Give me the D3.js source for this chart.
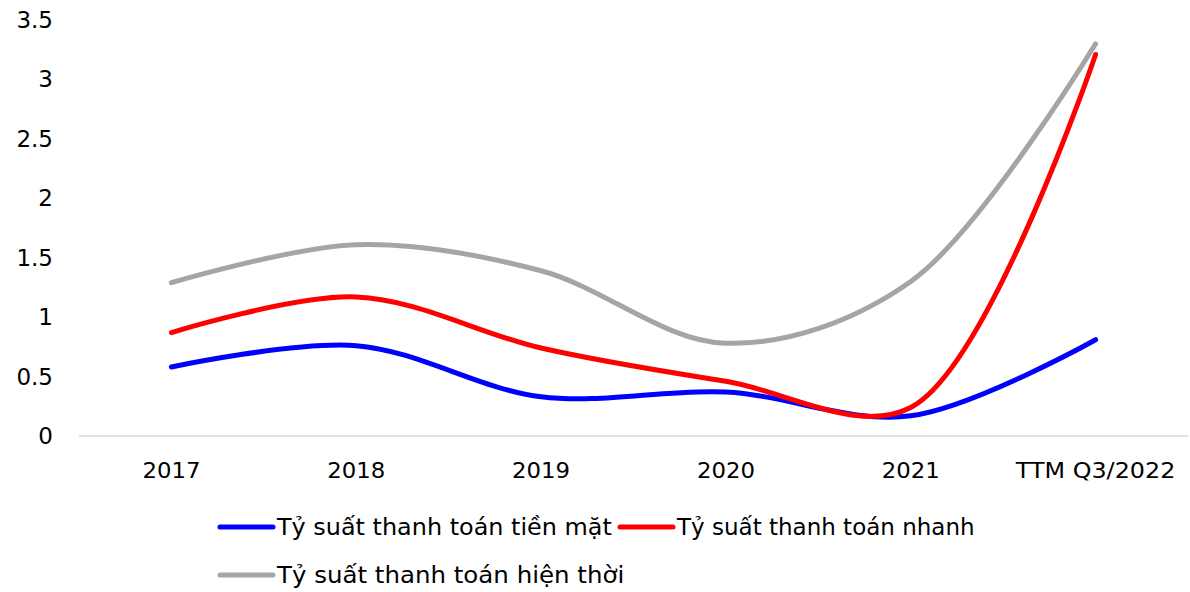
<!DOCTYPE html>
<html>
<head>
<meta charset="utf-8">
<script src="https://cdn.jsdelivr.net/npm/d3@7"></script>
<style>
  body { margin: 0; background: #fff; }
  svg { font-family: "DejaVu Sans", Verdana, sans-serif; }
</style>
</head>
<body>
<div id="chart"></div>
<script>
const categories = ["2017", "2018", "2019", "2020", "2021", "TTM Q3/2022"];
const cashRatio = [0.58, 0.76, 0.33, 0.37, 0.17, 0.81];
const quickRatio = [0.87, 1.17, 0.74, 0.46, 0.24, 3.21];
const currentRatio = [1.29, 1.61, 1.39, 0.78, 1.30, 3.30];
const yTicks = [0, 0.5, 1, 1.5, 2, 2.5, 3, 3.5];

const series = [
  {name: "Tỷ suất thanh toán tiền mặt", values: cashRatio, color: "#0000FF"},
  {name: "Tỷ suất thanh toán nhanh", values: quickRatio, color: "#FF0000"},
  {name: "Tỷ suất thanh toán hiện thời", values: currentRatio, color: "#A5A5A5"}
];

const width = 1190, height = 592;
const margin = {top: 20, right: 2, bottom: 156, left: 79};

const svg = d3.select("#chart").append("svg")
    .attr("width", width)
    .attr("height", height);

const x = d3.scaleBand()
    .domain(categories)
    .range([margin.left, width - margin.right]);

const y = d3.scaleLinear()
    .domain([0, 3.5])
    .range([height - margin.bottom, margin.top]);

// y labels
svg.append("g")
    .attr("font-size", 23)
    .attr("text-anchor", "end")
  .selectAll("text")
  .data(yTicks)
  .join("text")
    .attr("x", 53)
    .attr("y", d => y(d))
    .attr("dy", "0.35em")
    .text(d => d);

// baseline
svg.append("line")
    .attr("x1", margin.left)
    .attr("x2", width - margin.right)
    .attr("y1", y(0))
    .attr("y2", y(0))
    .attr("stroke", "#D9D9D9")
    .attr("stroke-width", 1.5);

// x labels
svg.append("g")
    .attr("font-size", 22)
    .attr("text-anchor", "middle")
  .selectAll("text")
  .data(categories)
  .join("text")
    .attr("x", d => x(d) + x.bandwidth() / 2)
    .attr("y", y(0) + 42)
    .attr("textLength", d => d.length * 14.5)
    .attr("lengthAdjust", "spacingAndGlyphs")
    .text(d => d);

const line = d3.line()
    .x((d, i) => x(categories[i]) + x.bandwidth() / 2)
    .y(d => y(d))
    .curve(d3.curveCatmullRom.alpha(0.5));

svg.append("g")
  .selectAll("path")
  .data(series)
  .join("path")
    .attr("fill", "none")
    .attr("stroke", d => d.color)
    .attr("stroke-width", 5)
    .attr("stroke-linecap", "round")
    .attr("d", d => line(d.values));

// legend
const legendPos = [[220, 527], [620, 527], [220, 575]];
const legend = svg.append("g")
    .attr("font-size", 23)
  .selectAll("g")
  .data(series)
  .join("g")
    .attr("transform", (d, i) => `translate(${legendPos[i]})`);

legend.append("line")
    .attr("x1", 0).attr("x2", 53)
    .attr("stroke", d => d.color)
    .attr("stroke-width", 5)
    .attr("stroke-linecap", "round");

legend.append("text")
    .attr("x", 57)
    .attr("dy", "0.35em")
    .attr("textLength", d => d.name.length * 12.4)
    .attr("lengthAdjust", "spacingAndGlyphs")
    .text(d => d.name);
</script>
</body>
</html>
